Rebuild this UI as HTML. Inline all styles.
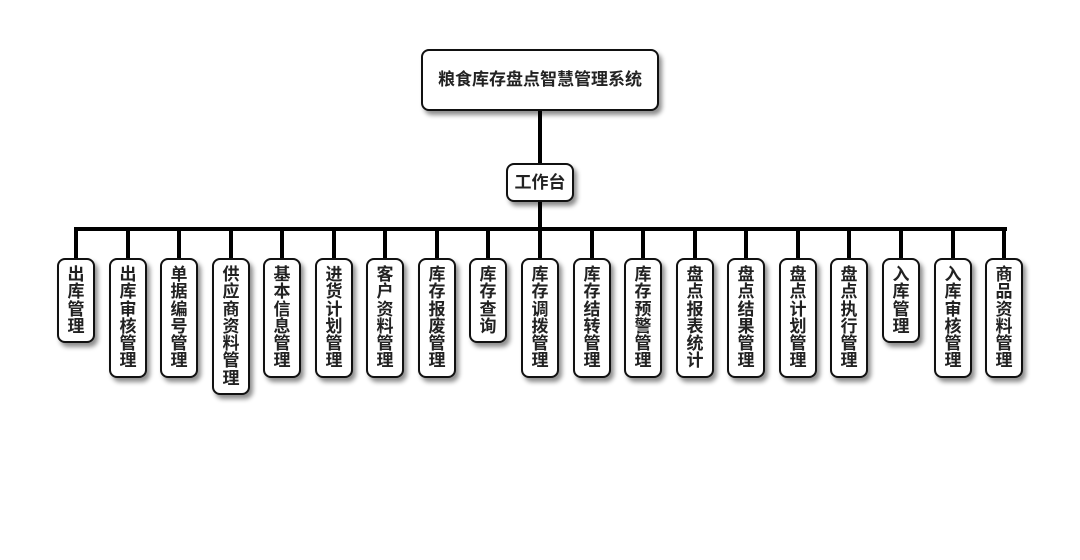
<!DOCTYPE html>
<html><head><meta charset="utf-8"><style>
body{margin:0;width:1080px;height:560px;background:#fff;position:relative;overflow:hidden;font-family:"Liberation Sans","Noto Sans CJK SC",sans-serif;font-weight:bold;color:#222}
.b{position:absolute;background:#fff;border:2px solid #111;border-radius:8px;box-sizing:border-box;box-shadow:3px 4px 5px rgba(0,0,0,.45)}
.l{position:absolute;background:#000}
.c{top:258px;width:38px;font-size:17px;line-height:17.3px;text-align:center;padding-top:6px}
</style></head><body>
<div class="l" style="left:538px;top:110px;width:4px;height:55px"></div>
<div class="l" style="left:538px;top:200px;width:4px;height:30px"></div>
<div class="l" style="left:74px;top:227px;width:933px;height:4px"></div>
<div class="b" style="left:421px;top:49px;width:238px;height:62px;font-size:17px;line-height:58px;text-align:center">粮食库存盘点智慧管理系统</div>
<div class="b" style="left:506px;top:163px;width:68px;height:39px;font-size:17px;line-height:35px;text-align:center">工作台</div>
<div id="cols"></div>
<script>
var labels=["出库管理","出库审核管理","单据编号管理","供应商资料管理","基本信息管理","进货计划管理","客户资料管理","库存报废管理","库存查询","库存调拨管理","库存结转管理","库存预警管理","盘点报表统计","盘点结果管理","盘点计划管理","盘点执行管理","入库管理","入库审核管理","商品资料管理"];
var h="";
for(var i=0;i<labels.length;i++){var cx=Math.round(76+i*51.56);var n=labels[i].length;
h+='<div class="l" style="left:'+(cx-2)+'px;top:229px;width:4px;height:30px"></div>';
h+='<div class="b c" style="left:'+(cx-19)+'px;height:'+(16+n*17.3).toFixed(0)+'px">'+labels[i].split("").join("<br>")+'</div>';}
document.getElementById("cols").innerHTML=h;
</script>
</body></html>
